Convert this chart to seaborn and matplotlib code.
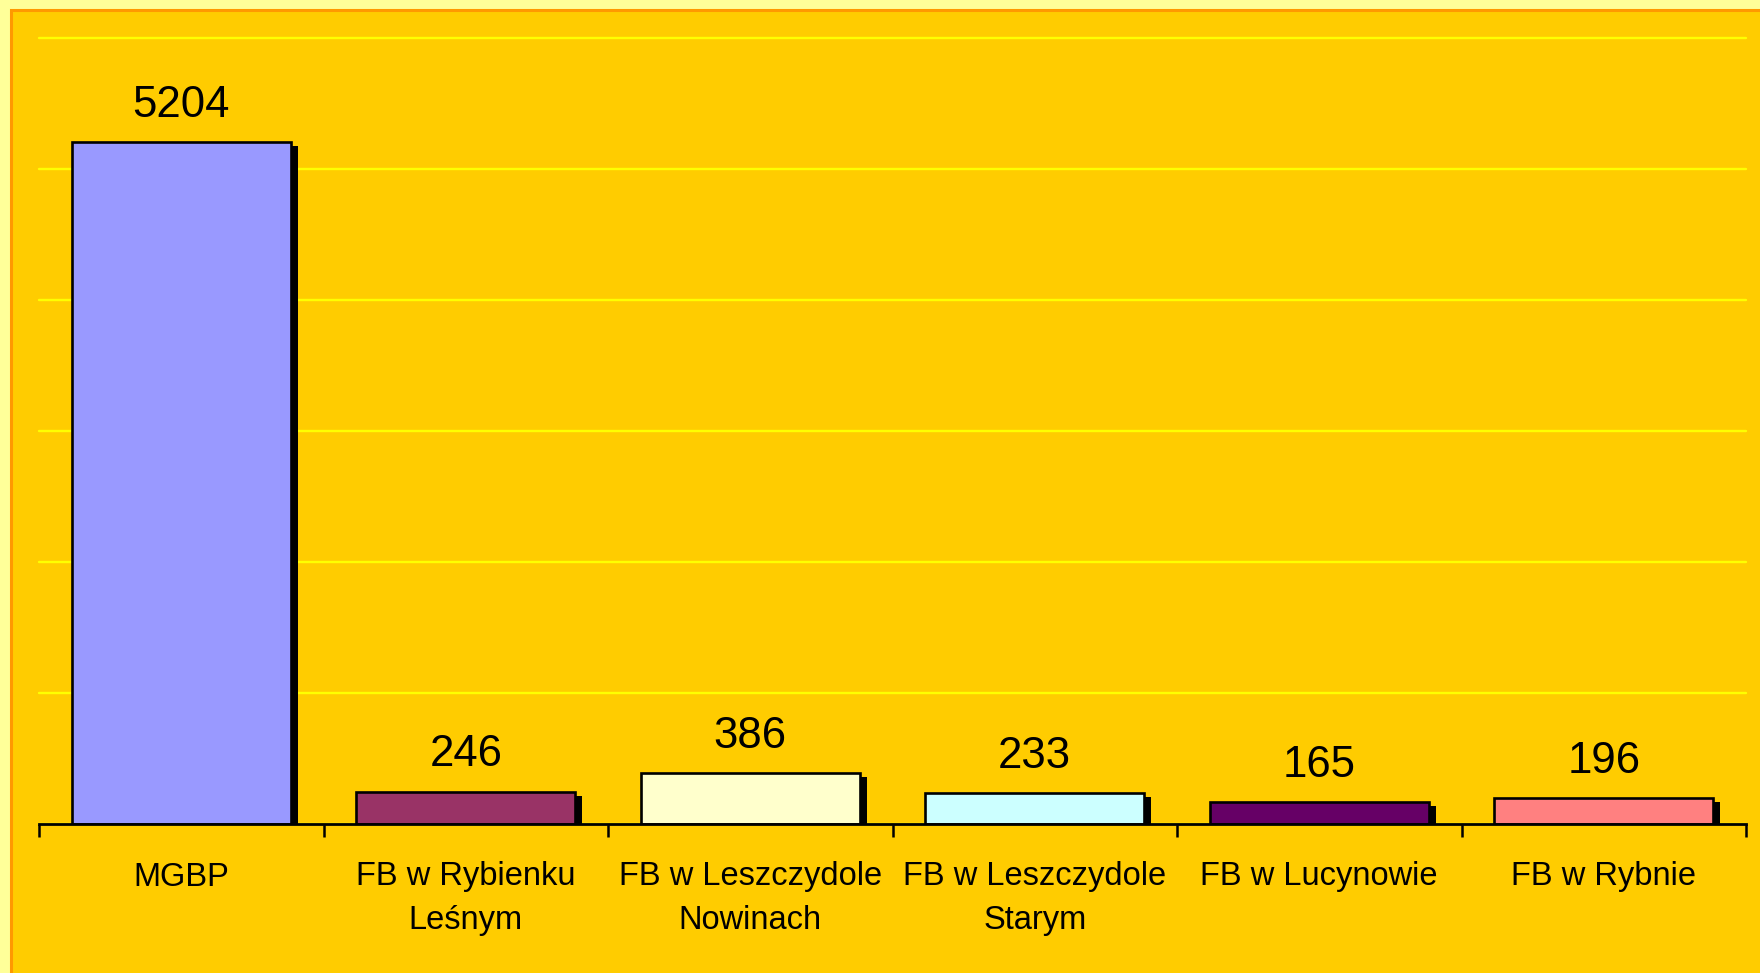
import matplotlib
matplotlib.use("Agg")
import matplotlib.pyplot as plt
import matplotlib.transforms as mtransforms
from matplotlib.patches import Rectangle
import seaborn as sns
import numpy as np

categories = ["MGBP", "FB w Rybienku\nLeśnym", "FB w Leszczydole\nNowinach",
              "FB w Leszczydole\nStarym", "FB w Lucynowie", "FB w Rybnie"]
values = [5204, 246, 386, 233, 165, 196]
bar_colors = ["#9999FF", "#993366", "#FFFFCC", "#CCFFFF", "#660066", "#FF8080"]
y_ticks = [0, 1000, 2000, 3000, 4000, 5000, 6000]

sns.set_theme(style="white")
plt.rcParams['font.family'] = ['Liberation Sans', 'DejaVu Sans']

W, H, DPI = 1760, 973, 100
fig = plt.figure(figsize=(W / DPI, H / DPI), dpi=DPI, facecolor="#FFFF99")
# inner framed panel
fig.patches.append(Rectangle((10.5 / W, -0.05), 1.2, (H - 9.5) / H + 0.05,
                             transform=fig.transFigure, facecolor="#FFCC00",
                             edgecolor="#FF9900", linewidth=2.2, zorder=-1))

ax = fig.add_axes([39 / W, (H - 824) / H, (1746 - 39) / W, (824 - 38) / H])
ax.set_zorder(1)
ax.set_facecolor("none")

# shadow bars
sns.barplot(x=categories, y=values, color="black", width=0.77, ax=ax,
            saturation=1, linewidth=0)
shadow = list(ax.patches)
off = mtransforms.ScaledTranslation(7 / DPI, -4 / DPI, fig.dpi_scale_trans)
for p in shadow:
    p.set_transform(ax.transData + off)

# main bars
sns.barplot(x=categories, y=values, hue=categories, palette=bar_colors,
            width=0.77, ax=ax, saturation=1, legend=False,
            edgecolor="black", linewidth=1.9)

for cont in ax.containers[1:]:
    ax.bar_label(cont, fmt="%d", padding=12, fontsize=31.5, color="black")

ax.set_ylim(0, 6000)
ax.set_xlim(-0.5, len(categories) - 0.5)
ax.set_yticks(y_ticks)
ax.set_yticklabels([])
ax.tick_params(axis="y", length=0)
ax.yaxis.grid(True, color="#FFFF00", linewidth=1.7)
ax.xaxis.grid(False)
ax.set_axisbelow(True)
for gl in ax.get_ygridlines():
    gl.set_clip_on(False)

ax.set_xticks(range(len(categories)))
ax.set_xticklabels(categories, fontsize=23.5, color="black", linespacing=1.52)
ax.tick_params(axis="x", which="major", length=0, pad=27)
ax.set_xticks(np.arange(-0.5, len(categories)), minor=True)
ax.tick_params(axis="x", which="minor", length=9.5, width=1.8, color="black",
               direction="out", bottom=True)
ax.set_xlabel("")
ax.set_ylabel("")

for s in ["left", "right", "top"]:
    ax.spines[s].set_visible(False)
ax.spines["bottom"].set_color("black")
ax.spines["bottom"].set_linewidth(2.0)

fig.savefig("out.png", dpi=DPI, facecolor=fig.get_facecolor())
